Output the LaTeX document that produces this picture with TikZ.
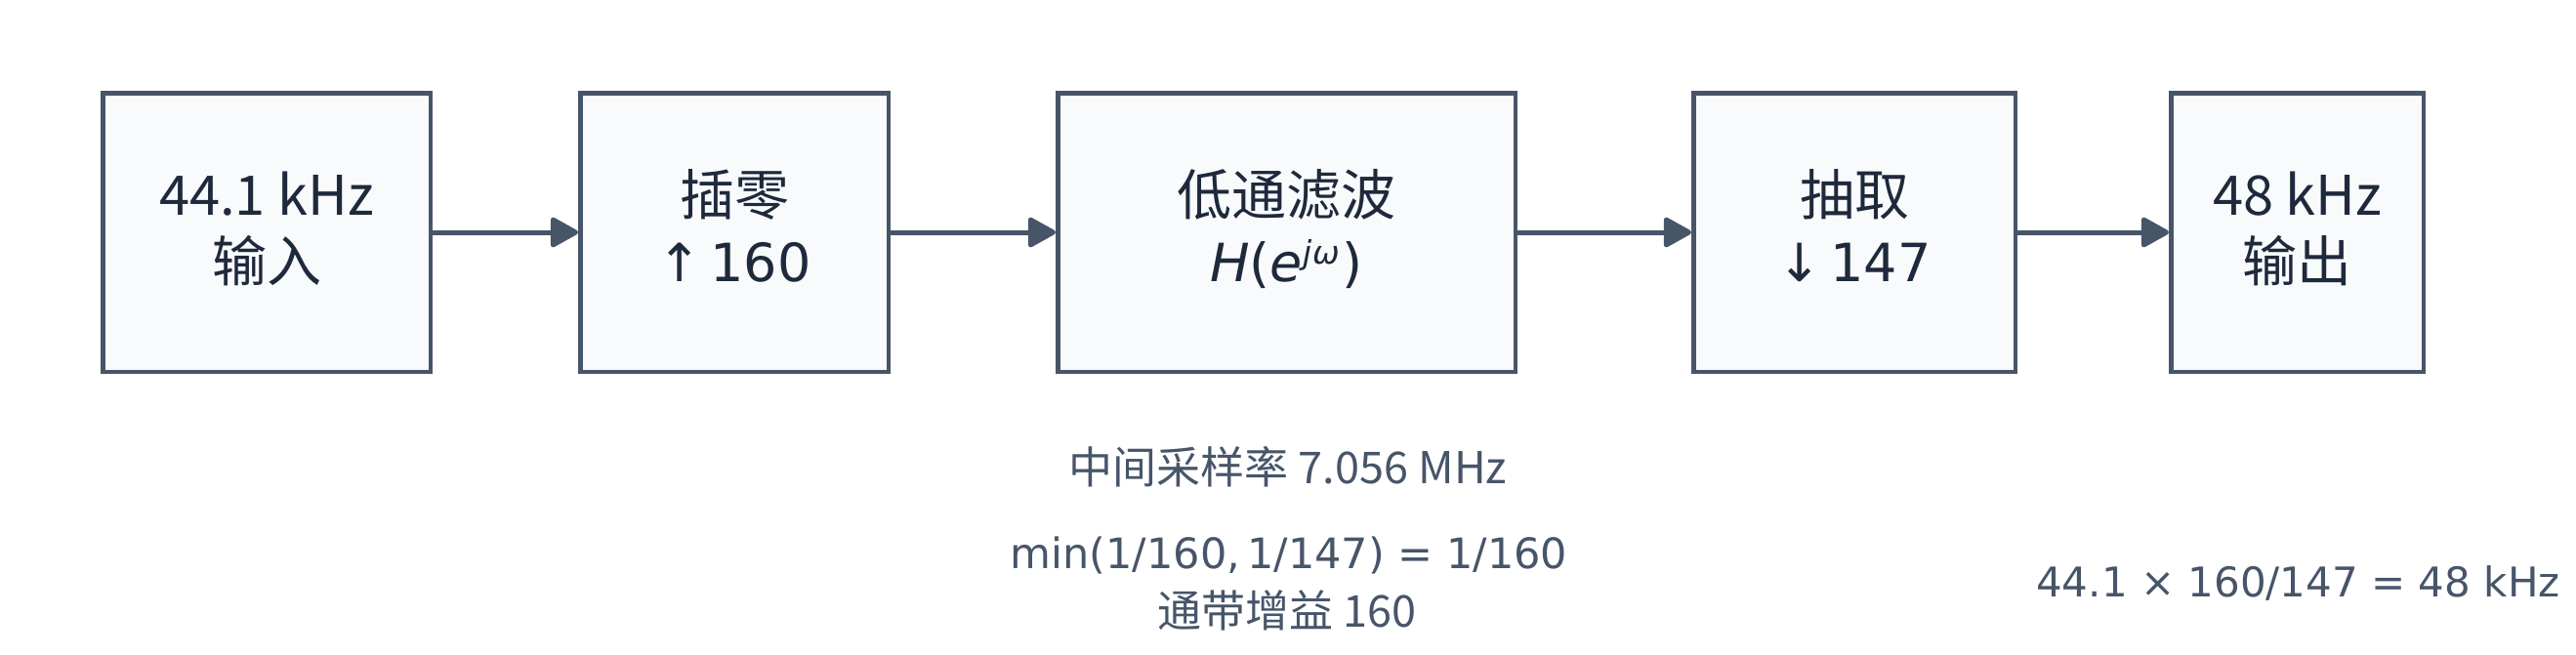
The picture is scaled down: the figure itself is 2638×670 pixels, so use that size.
\documentclass[tikz,border=0pt]{standalone}
\usepackage{fontspec}
\setmainfont{Noto Sans CJK SC}
\newfontfamily\dv{DejaVu Sans}
\usetikzlibrary{arrows.meta}
\definecolor{edgec}{HTML}{475569}
\definecolor{boxfill}{HTML}{F8FAFC}
\definecolor{ink}{HTML}{1E293B}
\definecolor{notec}{HTML}{475569}
\newcommand\topst{\rule{0pt}{52pt}}
\newcommand\botst{\rule[-20pt]{0pt}{20pt}}
\newcommand\dvbox{\dv\fontsize{54}{68}\selectfont}
\begin{document}
\begin{tikzpicture}[x=1pt,y=-1pt,
  blk/.style={draw=edgec, fill=boxfill, line width=4.5pt, inner sep=0pt,
    minimum height=285.5pt, align=center, text=ink,
    font=\fontsize{56}{68}\selectfont},
  flow/.style={draw=edgec, line width=5pt,
    -{Triangle[length=31pt,width=33pt,round]}},
  notetxt/.style={text=notec, inner sep=0pt, anchor=base,
    font=\fontsize{45}{60}\selectfont}]
\useasboundingbox (0,0) rectangle (2638,670);
\node[blk, minimum width=335.5pt] (b1) at (273,238)
  {\topst 44.1 kHz\\输入\botst};
\node[blk, minimum width=315.5pt] (b2) at (752,238)
  {\topst 插零\\{\dvbox ↑\,160}\botst};
\node[blk, minimum width=468.5pt] (b3) at (1317.5,238)
  {\topst 低通滤波\\{\dvbox{\itshape H}(\itshape e\raisebox{18pt}{\fontsize{33}{33}\selectfont j\kern1ptω}\upshape\kern3pt)}\botst};
\node[blk, minimum width=329.5pt] (b4) at (1899,238)
  {\topst 抽取\\{\dvbox ↓\,147}\botst};
\node[blk, minimum width=258.5pt] (b5) at (2352.5,238)
  {\topst 48 kHz\\输出\botst};
\draw[flow] (b1.east) -- (b2.west);
\draw[flow] (b2.east) -- (b3.west);
\draw[flow] (b3.east) -- (b4.west);
\draw[flow] (b4.east) -- (b5.west);
\node[notetxt] (n1) at (1319,495) {中间采样率 7.056 MHz};
\node[notetxt, font=\dv\fontsize{43}{60}\selectfont] (n2) at (1320,582) {min(1/160,\,1/147) = 1/160};
\node[notetxt] (n3) at (1318,642) {通带增益 160};
\node[notetxt, font=\dv\fontsize{42}{60}\selectfont] (n4) at (2353.5,611) {44.1 × 160/147 = 48 kHz};
\end{tikzpicture}
\end{document}
